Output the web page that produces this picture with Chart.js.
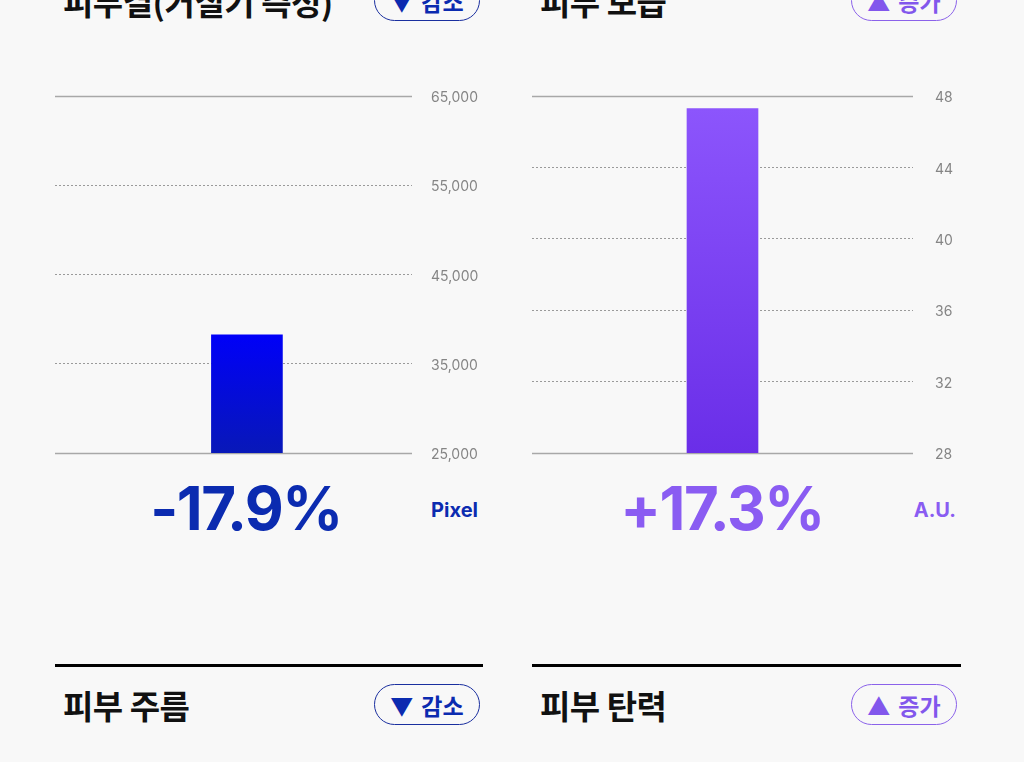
<!DOCTYPE html>
<html>
<head>
<meta charset="utf-8">
<script src="https://cdn.jsdelivr.net/npm/chart.js@4.4.1/dist/chart.umd.min.js"></script>
<style>
  html, body { margin: 0; padding: 0; background: #f8f8f8; }
  body { width: 1024px; height: 762px; position: relative; overflow: hidden; font-family: "Noto Sans CJK KR", "Noto Sans", sans-serif; }
  .row { position: absolute; height: 41px; display: flex; align-items: center; justify-content: space-between; }
  .title { font-size: 33px; font-weight: 700; color: #111; padding-left: 8px; letter-spacing: -0.5px; }
  .pill { box-sizing: border-box; width: 106px; height: 41px; border-radius: 21px; border: 1.5px solid; display: flex; align-items: center; justify-content: center; font-size: 23px; font-weight: 700; }
  .pill i { font-style: normal; margin-right: 8px; }
  .down { color: #0b2bb0; border-color: #1a2f9f; }
  .up { color: #8257ec; border-color: #8b62ea; }
  .rule { position: absolute; top: 664px; height: 3px; background: #000; }
  .chg { position: absolute; top: 478px; width: 260px; text-align: center; font-family: Inter, sans-serif; font-weight: 700; font-size: 60px; line-height: 60px; letter-spacing: -1.5px; }
  .unit { position: absolute; top: 500px; font-family: Inter, sans-serif; font-weight: 700; font-size: 20px; line-height: 20px; text-align: right; width: 80px; }
  canvas { position: absolute; }
</style>
</head>
<body>
<div class="row" style="left:55px; top:-20px; width:425px;"><span class="title">피부결(거칠기 측정)</span><span class="pill down"><i>▼</i>감소</span></div>
<div class="row" style="left:532px; top:-20px; width:425px;"><span class="title">피부 보습</span><span class="pill up"><i>▲</i>증가</span></div>

<div style="position:absolute; left:40px; top:80px; width:460px; height:390px;"><canvas id="c1"></canvas></div>
<div style="position:absolute; left:520px; top:80px; width:460px; height:390px;"><canvas id="c2"></canvas></div>

<div class="chg" id="chg1" style="left:116px; color:#0b2bb0;"></div>
<div class="chg" id="chg2" style="left:592px; color:#8a5cf2;"></div>
<div class="unit" id="unit1" style="left:398px; color:#0b2bb0;"></div>
<div class="unit" id="unit2" style="left:876px; color:#8a5cf2;"></div>

<div class="rule" style="left:55px; width:428px;"></div>
<div class="rule" style="left:532px; width:429px;"></div>
<div class="row" style="left:55px; top:684px; width:425px;"><span class="title">피부 주름</span><span class="pill down"><i>▼</i>감소</span></div>
<div class="row" style="left:532px; top:684px; width:425px;"><span class="title">피부 탄력</span><span class="pill up"><i>▲</i>증가</span></div>

<script>
// data
var metrics = ['피부결(거칠기 측정)', '피부 보습'];
var values = [38250, 47.3];
var changes = ['-17.9%', '+17.3%'];
var units = ['Pixel', 'A.U.'];
var yMin = [25000, 28];
var yMax = [65000, 48];
var yStep = [10000, 4];

var barTop = ['#0000f8', '#8c55fc'];
var barBottom = ['#0818b8', '#6a2ee8'];

// solid line on the top and bottom ticks, dotted in between (v4 has no per-tick dash)
var edgeLines = {
    id: 'edgeLines',
    beforeDatasetsDraw: function(chart) {
        var y = chart.scales.y, a = chart.chartArea, c = chart.ctx;
        c.save();
        c.strokeStyle = '#a8a8a8';
        c.lineWidth = 1.5;
        [y.min, y.max].forEach(function(v) {
            var p = Math.round(y.getPixelForValue(v)) + 0.5;
            c.beginPath();
            c.moveTo(a.left, p);
            c.lineTo(a.right, p);
            c.stroke();
        });
        c.restore();
    }
};

function makeChart(id, i, pad, axisW, gap, xMin, xMax) {
    document.getElementById('chg' + (i + 1)).textContent = changes[i];
    document.getElementById('unit' + (i + 1)).textContent = units[i];

    return new Chart(document.getElementById(id), {
        type: 'bar',
        data: {
            labels: [0],
            datasets: [{
                label: metrics[i],
                data: [values[i]],
                barThickness: 71,
                borderWidth: 0,
                backgroundColor: function(ctx) {
                    var chart = ctx.chart;
                    if (!chart.chartArea) return barTop[i];
                    var y = chart.scales.y;
                    var g = chart.ctx.createLinearGradient(0, y.getPixelForValue(values[i]), 0, y.getPixelForValue(yMin[i]));
                    g.addColorStop(0, barTop[i]);
                    g.addColorStop(1, barBottom[i]);
                    return g;
                }
            }]
        },
        options: {
            responsive: true,
            maintainAspectRatio: false,
            animation: false,
            locale: 'en-US',
            layout: { padding: pad },
            plugins: { legend: { display: false }, tooltip: { enabled: false } },
            scales: {
                x: { type: 'linear', min: xMin, max: xMax, display: false },
                y: {
                    position: 'right',
                    min: yMin[i],
                    max: yMax[i],
                    afterFit: function(s) { s.width = axisW; },
                    // gap made with invisible tick marks, ticks.padding would also pad top/bottom
                    ticks: { stepSize: yStep[i], padding: 0, labelOffset: 2, color: '#858585', font: { family: 'Inter', size: 14 } },
                    grid: {
                        drawTicks: true,
                        tickLength: gap,
                        tickColor: 'rgba(0,0,0,0)',
                        color: '#9a9a9a',
                        lineWidth: function(ctx) {
                            var n = ctx.scale.ticks.length;
                            return (ctx.index === 0 || ctx.index === n - 1) ? 0 : 1;
                        }
                    },
                    border: { display: false, dash: [2, 2] }
                }
            }
        },
        plugins: [edgeLines]
    });
}

makeChart('c1', 0, { left: 15, top: 16, right: 0, bottom: 17 }, 88, 19, -0.547, 0.453);
makeChart('c2', 1, { left: 12, top: 16, right: 0, bottom: 17 }, 67, 22, -0.5, 0.5);
</script>
</body>
</html>
